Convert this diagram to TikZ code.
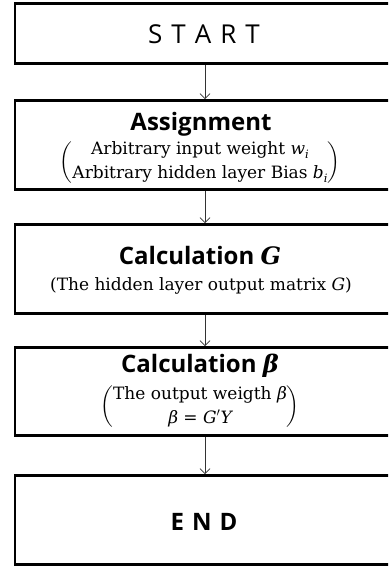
\documentclass[tikz,border=0pt]{standalone}
\usepackage{amsmath}
\usepackage{fontspec}
\newfontfamily\headfont{Open Sans}
\newfontfamily\bodyfont{DejaVu Serif}
\newcommand{\mi}[1]{{\bodyfont\itshape #1}}
\newcommand{\msub}[1]{\raisebox{-3.5pt}{\bodyfont\itshape\fontsize{11.5}{11.5}\selectfont #1}}
\usetikzlibrary{arrows.meta}
\tikzset{
  box/.style={draw=black, line width=2.6pt, minimum width=380pt, inner sep=0pt},
  conn/.style={draw=black!80, line width=0.8pt, -{Straight Barb[length=5pt,width=10pt]}},
  headtxt/.style={font=\headfont\fontsize{24}{28}\selectfont\bfseries, inner sep=0pt},
  subtxt/.style={font=\bodyfont\fontsize{17}{20}\selectfont, inner sep=0pt, align=center}
}
\begin{document}
\begin{tikzpicture}[x=1pt,y=-1pt]
\useasboundingbox (0,0) rectangle (388,569);
\clip (0,0) rectangle (388,569);
\node[box, minimum height=60pt] (start) at (205,33.5) {};
\node[box, minimum height=89pt] (assign) at (205,145) {};
\node[box, minimum height=89pt] (calcg) at (205,269) {};
\node[box, minimum height=88pt] (calcb) at (205,391.5) {};
\node[box, minimum height=89pt] (finish) at (205,520) {};
\node[inner sep=0pt, font=\headfont\fontsize{26}{30}\selectfont] (starttxt) at (204,34.5)
  {S\hspace{9pt}T\hspace{9pt}A\hspace{9pt}R\hspace{9pt}T};
\node[headtxt] (assigntitle) at (201,124) {Assignment};
\node[subtxt] (assignsub) at (200,163)
  {$\left(\begin{array}{@{}c@{}}\text{Arbitrary input weight \mi{w}\msub{i}}\\[4pt] \text{Arbitrary hidden layer Bias \mi{b}\msub{i}}\end{array}\right)$};
\node[headtxt] (gtitle) at (200,256) {Calculation {\bodyfont\bfseries\itshape G}};
\node[subtxt] (gsub) at (201,286) {(The hidden layer output matrix \mi{G})};
\node[headtxt] (btitle) at (200,366) {Calculation {\bodyfont\bfseries\itshape β}};
\node[subtxt] (bsub) at (200,407)
  {$\left(\begin{array}{@{}c@{}}\text{The output weigth \mi{β}}\\[4pt] \text{\mi{β} = \mi{G}$'$\mi{Y}}\end{array}\right)$};
\node[inner sep=0pt, font=\headfont\fontsize{24}{28}\selectfont\bfseries] (endtxt) at (204,522)
  {E\hspace{8pt}N\hspace{8pt}D};
\draw[conn] (start) -- (assign);
\draw[conn] (assign) -- (calcg);
\draw[conn] (calcg) -- (calcb);
\draw[conn] (calcb) -- (finish);
\end{tikzpicture}
\end{document}
